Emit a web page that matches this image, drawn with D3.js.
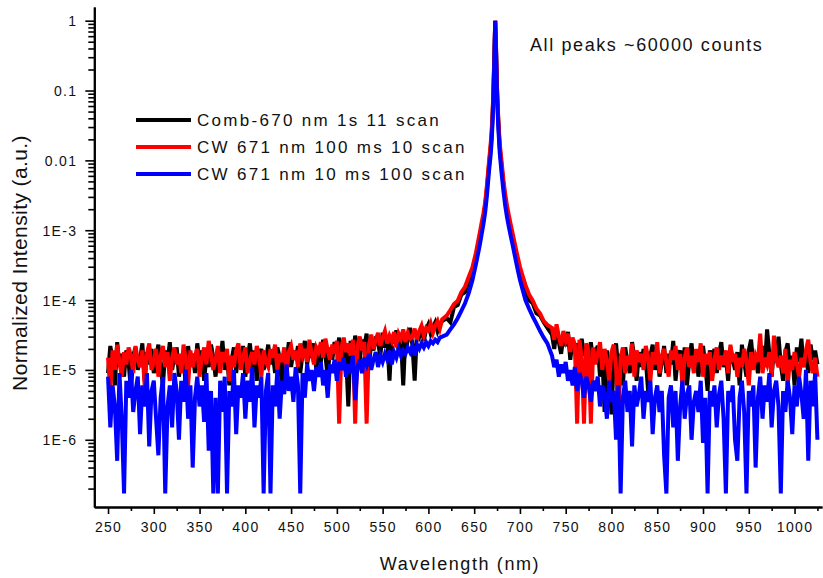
<!DOCTYPE html>
<html>
<head>
<meta charset="utf-8">
<script src="https://cdn.jsdelivr.net/npm/d3@7/dist/d3.min.js"></script>
<style>
body { margin: 0; background: #fff; }
svg text { font-family: "Liberation Sans", Arial, sans-serif; fill: #111; }
</style>
</head>
<body>
<div id="chart"></div>
<script>
var w = 823;
var h = 578;

// wavelength grid (nm)
var wavelength = [
	250,252.5,255,257.5,260,262.5,265,267.5,270,272.5,
	275,277.5,280,282.5,285,287.5,290,292.5,295,297.5,
	300,302.5,305,307.5,310,312.5,315,317.5,320,322.5,
	325,327.5,330,332.5,335,337.5,340,342.5,345,347.5,
	350,352.5,355,357.5,360,362.5,365,367.5,370,372.5,
	375,377.5,380,382.5,385,387.5,390,392.5,395,397.5,
	400,402.5,405,407.5,410,412.5,415,417.5,420,422.5,
	425,427.5,430,432.5,435,437.5,440,442.5,445,447.5,
	450,452.5,455,457.5,460,462.5,465,467.5,470,472.5,
	475,477.5,480,482.5,485,487.5,490,492.5,495,497.5,
	500,502.5,505,507.5,510,512.5,515,517.5,520,522.5,
	525,527.5,530,532.5,535,537.5,540,542.5,545,547.5,
	550,552.5,555,557.5,560,562.5,565,567.5,570,572.5,
	575,577.5,580,582.5,585,587.5,590,592.5,595,597.5,
	600,602.5,605,607.5,610,612.5,615,
	620,624,628,632,636,640,644,648,652,656,
	658,660,662,664,666,668,
	669,670,671,672,673,674,675,676,677,678,
	680,682,684,686,688,690,692,694,696,698,700,
	703,706,710,714,718,722,726,730,
	735,737.5,740,742.5,745,747.5,750,752.5,755,757.5,
	760,762.5,765,767.5,770,772.5,775,777.5,780,782.5,
	785,787.5,790,792.5,795,797.5,800,802.5,805,807.5,
	810,812.5,815,817.5,820,822.5,825,827.5,830,832.5,
	835,837.5,840,842.5,845,847.5,850,852.5,855,857.5,
	860,862.5,865,867.5,870,872.5,875,877.5,880,882.5,
	885,887.5,890,892.5,895,897.5,900,902.5,905,907.5,
	910,912.5,915,917.5,920,922.5,925,927.5,930,932.5,
	935,937.5,940,942.5,945,947.5,950,952.5,955,957.5,
	960,962.5,965,967.5,970,972.5,975,977.5,980,982.5,
	985,987.5,990,992.5,995,997.5,1000,1002.5,1005,1007.5,
	1010,1012.5,1015,1017.5,1020,1022.5,1025
];

// intensities below are in units of 1E-6 (normalized)
var unit = 1e-6;

var comb670 = [
	9,22,14,6,25,11,17,8,19,13,
	5,16,21,10,14,24,7,18,12,20,
	9,15,23,11,6,19,13,25,10,16,
	21,8,14,18,5,22,12,17,9,24,
	13,19,7,16,11,23,15,8,20,12,
	26,10,17,6,14,21,9,18,13,22,
	8,15,24,11,19,7,16,20,10,14,
	23,12,17,9,21,15,6,18,13,25,
	11,19,14,22,9,17,26,12,20,15,
	24,10,18,13,27,16,8,21,14,25,
	18,29,12,23,17,3,26,15,31,20,
	14,27,22,33,11,25,19,30,24,16,
	34,21,28,7,31,24,37,18,29,6,
	33,27,40,23,7,35,30,42,26,38,
	45,33,41,48,36,44,50,
	55,48,80,85,120,130,190,250,420,800,
	1100,1500,2200,4000,8000,15000,
	22000,40000,90000,300000,1000000,350000,100000,45000,25000,15000,
	8000,4500,2800,1900,1400,1050,800,600,450,340,260,
	190,150,100,90,65,60,48,40,
	32,20,38,25,17,30,22,35,14,27,
	19,24,11,28,16,21,9,25,13,18,
	22,8,16,2.5,19,12,2.3,14,24,10,
	17,6,21,13,9,25,15,7,18,11,
	20,14,5,16,23,10,18,8,13,22,
	9,17,12,26,7,15,19,11,21,6,
	14,24,10,18,8,16,22,12,5,19,
	13,20,9,17,25,11,15,7,21,14,
	10,18,6,23,13,8,19,27,12,16,
	9,15,22,11,38,17,8,20,14,30,
	12,7,18,24,10,16,6,21,13,28,
	11,17,9,23,14,19,12
];

var cw100ms = [
	15,5,19,10,23,13,8,18,12,21,
	16,9,22,14,11,19,6,17,24,10,
	13,20,8,16,22,11,18,7,15,21,
	12,17,9,23,14,6,19,11,16,20,
	8,15,21,12,26,17,10,14,22,9,
	18,13,20,7,16,11,19,24,10,15,
	21,9,14,18,12,22,16,8,19,13,
	11,20,15,23,10,17,13,21,9,18,
	22,14,19,11,24,16,20,13,27,17,
	12,21,18,25,15,28,19,14,23,17,
	26,1.7,21,29,18,24,16,27,1.7,22,
	30,19,25,1.7,23,32,20,27,34,22,
	29,36,24,31,26,35,21,33,28,38,
	25,34,28,30,39,27,36,43,31,40,
	37,46,34,43,50,39,53,
	60,72,88,98,130,155,215,290,480,900,
	1250,1700,2500,4500,9000,17000,
	25000,45000,100000,320000,1000000,380000,110000,50000,28000,17000,
	9500,5200,3200,2200,1600,1200,900,680,510,390,300,
	220,165,120,98,75,64,50,44,
	40,27,45,30,22,36,26,33,18,29,
	23,1.7,27,15,1.7,24,19,1.7,21,12,
	17,25,10,20,14,7,18,23,11,1.7,
	15,21,9,16,12,24,8,19,13,17,
	10,22,15,7,18,12,25,9,16,20,
	13,8,19,14,22,10,17,6,15,21,
	11,16,9,20,13,24,8,17,12,18,
	7,14,21,10,16,12,19,9,23,13,
	17,8,15,11,20,14,6,18,10,16,
	13,33,9,15,12,18,8,31,14,11,
	16,9,20,6,14,10,18,12,8,15,
	11,19,27,13,9,15,8
];

var cw10ms = [
	8,1.5,6,3,0.5,9,2,0.17,7,4,
	10,2.5,5,8,1.2,6,3,9,0.8,5,
	7,2,0.6,4,8,0.17,3,6,1.5,9,
	5,1,7,3.5,10,2,6,0.4,4,8,
	3,6,1.8,9,0.7,5,0.17,4,0.17,7,
	2.5,8,0.17,5,3,10,1.2,6,4,9,
	2,7,3.5,11,1.5,6,4,8,0.17,5,
	9,0.17,6,3,10,2,7,4.5,12,5,
	8,3.5,11,6,0.17,9,4,12,7,10,
	5,11,8,13,6,10,4,12,9,14,
	7,13,10,15,8,12,9,16,3.7,11,
	14,9,15,12,17,10,14,18,11,16,
	13,17,14,19,12,18,15,20,16,19,
	17,21,18,22,16,23,20,24,21,25,
	22,26,24,27,25,29,30,
	32,38,45,55,70,90,125,190,330,600,
	850,1200,1800,3200,6500,12000,
	18000,33000,75000,260000,1000000,300000,85000,38000,21000,12500,
	6500,3600,2200,1500,1100,820,620,460,340,255,195,
	140,100,75,58,46,36,29,24,
	16,11,14,8,12,9,13,7,10,6,
	11,5,9,7,4,8,6,3.5,7,5,
	8,3,6,4.5,2,7,3.5,5,1,6,
	0.17,4,7,2.5,5,0.8,6,3,4.5,8,
	2,5,3.5,7,1.2,4,6,2.5,5,0.6,
	0.17,4,6,1.5,5,0.5,3,7,2,4.5,
	6,1,3.5,5,2.5,7,0.9,4,0.17,5,
	3,6,1.5,4.5,7,2,0.17,5,3.5,6,
	1,0.5,4,7,2.5,0.17,5,3,6,0.4,
	4,8,2,6,3.5,9,1.5,5,7,3,
	0.17,5,2.5,7,4,1.2,6,3,8,4.5,
	2,10,0.5,7,3,9,1
];

var seriesNames = ["Comb-670 nm 1s 11 scan", "CW 671 nm 100 ms 10 scan", "CW 671 nm 10 ms 100 scan"];
var seriesColors = ["#000000", "#ff0000", "#0000ff"];
var seriesData = [comb670, cw100ms, cw10ms];

var xMajor = [250,300,350,400,450,500,550,600,650,700,750,800,850,900,950,1000];
var xMinor = [275,325,375,425,475,525,575,625,675,725,775,825,875,925,975,1025];
var yMajor = [1, 0.1, 0.01, 1e-3, 1e-4, 1e-5, 1e-6];
var yLabels = ["1", "0.1", "0.01", "1E-3", "1E-4", "1E-5", "1E-6"];

var padLeft = 94.3, padRight = 822, padTop = 7, padBottom = 507;

var xScale = d3.scaleLinear().domain([235, 1030]).range([padLeft, padRight]);
var yScale = d3.scaleLog().domain([1.09e-7, 1.57]).range([padBottom, padTop]);

var svg = d3.select("#chart").append("svg")
	.attr("width", w)
	.attr("height", h);

// series lines
var line = d3.line()
	.x(function (d, i) { return xScale(wavelength[i]); })
	.y(function (d) { return yScale(d * unit); });

seriesData.forEach(function (s, k) {
	svg.append("path")
		.datum(s)
		.attr("d", line)
		.attr("fill", "none")
		.attr("stroke", seriesColors[k])
		.attr("stroke-width", 4)
		.attr("stroke-linejoin", "miter");
});

// y minor ticks 2..9 per decade
var yMinor = [];
yMajor.concat([1e-7]).forEach(function (dec) {
	[2,3,4,5,6,7,8,9].forEach(function (m) {
		var v = dec * m;
		if (v > 1.09e-7 && v < 1.57 && dec < 1) yMinor.push(v);
	});
});

// axes
svg.append("g")
	.attr("transform", "translate(0," + padBottom + ")")
	.call(d3.axisBottom(xScale).tickValues(xMajor).tickSize(7).tickSizeOuter(0).tickPadding(8)
		.tickFormat(d3.format("d")));
svg.append("g")
	.attr("transform", "translate(0," + padBottom + ")")
	.call(d3.axisBottom(xScale).tickValues(xMinor).tickSize(4).tickSizeOuter(0).tickFormat(""));

var yAxis = svg.append("g")
	.attr("transform", "translate(" + padLeft + ",0)")
	.call(d3.axisLeft(yScale).tickValues(yMajor).tickSize(9).tickSizeOuter(0).tickPadding(8)
		.tickFormat(function (d, i) { return yLabels[i]; }));
svg.append("g")
	.attr("transform", "translate(" + padLeft + ",0)")
	.call(d3.axisLeft(yScale).tickValues(yMinor).tickSize(6).tickSizeOuter(0).tickFormat(""));

svg.selectAll(".domain").attr("stroke", "#000").attr("stroke-width", 2);
svg.selectAll(".tick line").attr("stroke", "#000").attr("stroke-width", 1.6);
svg.selectAll(".tick text")
	.attr("font-size", "14px")
	.attr("letter-spacing", "1.3px")
	.attr("fill", "#111")
	.style("font-family", "'Liberation Sans', Arial, sans-serif");
yAxis.selectAll(".tick text").attr("dy", "0.36em");

// axis titles
svg.append("text")
	.attr("x", 460)
	.attr("y", 570)
	.attr("text-anchor", "middle")
	.attr("font-size", "18px")
	.attr("letter-spacing", "1.6px")
	.text("Wavelength (nm)");

svg.append("text")
	.attr("transform", "translate(27," + 263 + ") rotate(-90)")
	.attr("text-anchor", "middle")
	.attr("font-size", "21px")
	.attr("letter-spacing", "0.4px")
	.text("Normalized Intensity (a.u.)");

// legend
var legend = svg.append("g");
seriesNames.forEach(function (name, k) {
	var ly = 120 + k * 27;
	legend.append("line")
		.attr("x1", 136).attr("x2", 191)
		.attr("y1", ly).attr("y2", ly)
		.attr("stroke", seriesColors[k])
		.attr("stroke-width", 4);
	legend.append("text")
		.attr("x", 197)
		.attr("y", ly + 6)
		.attr("font-size", "17px")
		.attr("letter-spacing", "2.3px")
		.text(name);
});

// annotation
svg.append("text")
	.attr("x", 530)
	.attr("y", 51)
	.attr("font-size", "18px")
	.attr("letter-spacing", "1.6px")
	.text("All peaks ~60000 counts");
</script>
</body>
</html>
